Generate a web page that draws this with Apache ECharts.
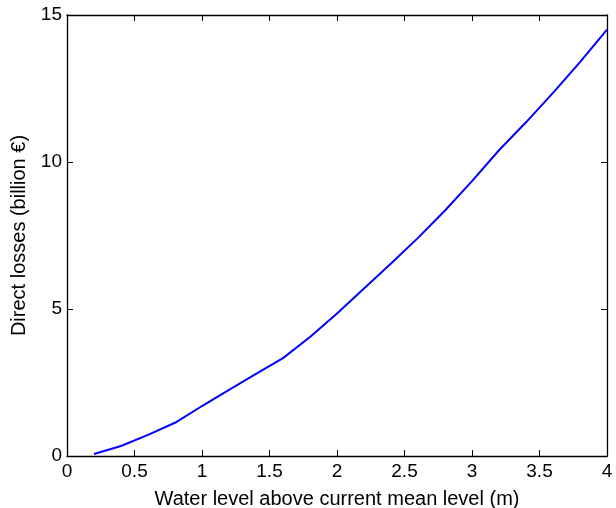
<!DOCTYPE html>
<html>
<head>
<meta charset="utf-8">
<script src="https://cdn.jsdelivr.net/npm/echarts@6/dist/echarts.min.js"></script>
<style>html,body{margin:0;padding:0;background:#fff}#c{width:616px;height:508px}</style>
</head>
<body>
<div id="c"></div>
<script>
var waterLevel = [0.2, 0.4, 0.6, 0.8, 1.0, 1.2, 1.4, 1.6, 1.8, 2.0, 2.2, 2.4, 2.6, 2.8, 3.0, 3.2, 3.4, 3.6, 3.8, 4.0];
var losses = [0.07, 0.34, 0.72, 1.13, 1.70, 2.25, 2.79, 3.33, 4.05, 4.85, 5.70, 6.55, 7.42, 8.35, 9.35, 10.40, 11.35, 12.35, 13.40, 14.50];
var xTitle = 'Water level above current mean level (m)';
var yTitle = 'Direct losses (billion €)';

var font = 'Liberation Sans, Arial, Helvetica, sans-serif';
var axisLine = {show: true, onZero: false, lineStyle: {color: '#000', width: 1.3}};
var tick = {show: true, inside: true, length: 6, lineStyle: {color: '#000', width: 1}};
var chart = echarts.init(document.getElementById('c'));
chart.setOption({
  animation: false,
  grid: {left: 67, right: 9, top: 15, bottom: 52, containLabel: false, outerBoundsMode: 'none'},
  xAxis: [{
    type: 'value', min: 0, max: 4, interval: 0.5, position: 'bottom',
    axisLine: axisLine, axisTick: tick, splitLine: {show: false},
    axisLabel: {color: '#000', fontFamily: font, fontSize: 19, margin: 6},
    name: xTitle, nameLocation: 'middle', nameGap: 33,
    nameTextStyle: {color: '#000', fontFamily: font, fontSize: 20}
  }, {
    type: 'value', min: 0, max: 4, interval: 0.5, position: 'top',
    axisLine: axisLine, axisTick: tick, splitLine: {show: false},
    axisLabel: {show: false}
  }],
  yAxis: [{
    type: 'value', min: 0, max: 15, interval: 5, position: 'left',
    axisLine: axisLine, axisTick: tick, splitLine: {show: false},
    axisLabel: {color: '#000', fontFamily: font, fontSize: 19, margin: 5},
    name: yTitle, nameLocation: 'middle', nameGap: 37,
    nameTextStyle: {color: '#000', fontFamily: font, fontSize: 20}
  }, {
    type: 'value', min: 0, max: 15, interval: 5, position: 'right',
    axisLine: axisLine, axisTick: tick, splitLine: {show: false},
    axisLabel: {show: false}
  }],
  series: [{
    type: 'line',
    data: waterLevel.map(function (x, i) { return [x, losses[i]]; }),
    showSymbol: false,
    lineStyle: {color: '#0000ff', width: 2},
    smooth: false
  }]
});
</script>
</body>
</html>
